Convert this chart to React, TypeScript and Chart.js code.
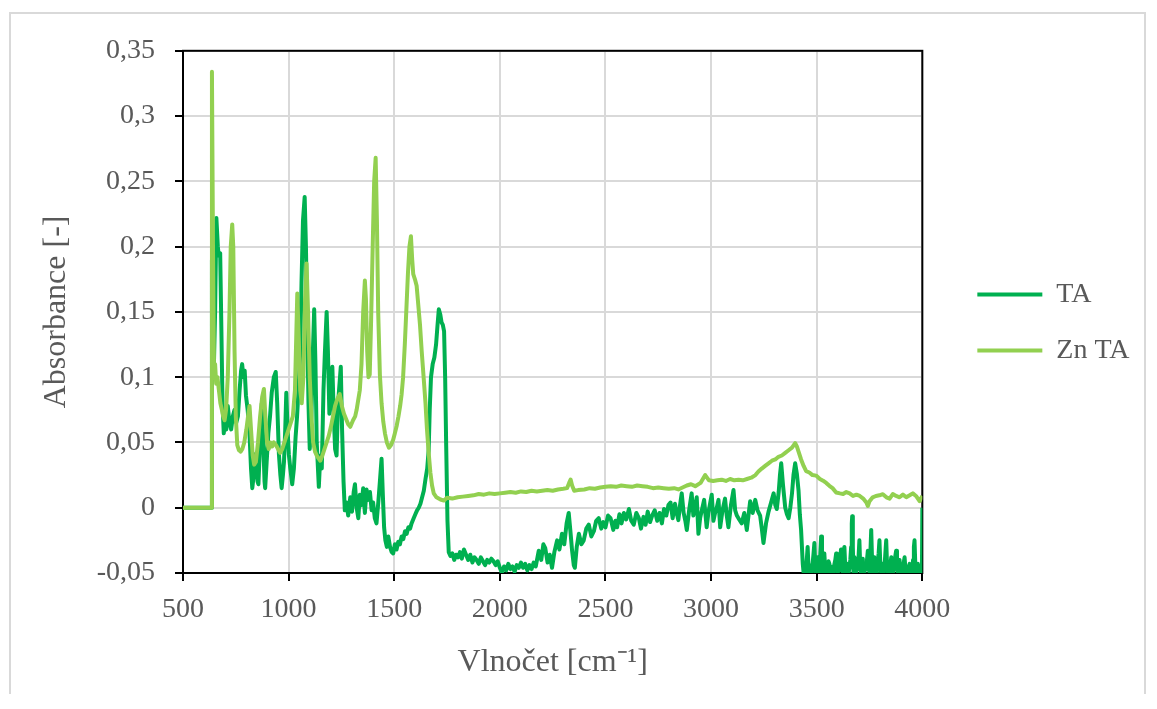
import { useEffect, useRef } from 'react';
import { Chart, registerables } from 'chart.js';

Chart.register(...registerables);

// FTIR absorbance spectra: [wavenumber (cm-1), absorbance (-)]
const taSpectrum: [number, number][] = [
  [500, 0], [634, 0], [637, 0.19], [645, 0.1], [652, 0.15], [658, 0.222], [665, 0.2], [669, 0.193],
  [676, 0.195], [682, 0.133], [687, 0.08], [693, 0.057], [699, 0.067], [705, 0.06], [712, 0.078],
  [720, 0.065], [728, 0.06], [736, 0.07], [744, 0.075], [752, 0.065], [760, 0.07], [768, 0.09],
  [775, 0.105], [780, 0.11], [786, 0.1], [792, 0.105], [798, 0.086], [806, 0.075], [814, 0.06],
  [822, 0.03], [828, 0.015], [835, 0.025], [841, 0.041], [848, 0.035], [853, 0.02], [857, 0.018],
  [865, 0.05], [873, 0.08], [880, 0.05], [886, 0.02], [889, 0.015], [896, 0.035], [904, 0.057],
  [912, 0.07], [920, 0.088], [930, 0.1], [939, 0.104], [946, 0.08], [954, 0.041], [961, 0.025],
  [967, 0.015], [973, 0.025], [978, 0.035], [984, 0.06], [989, 0.088], [995, 0.06], [1001, 0.041],
  [1008, 0.03], [1017, 0.018], [1025, 0.03], [1033, 0.054], [1040, 0.07], [1048, 0.094],
  [1055, 0.12], [1061, 0.172], [1068, 0.22], [1076, 0.238], [1082, 0.2], [1088, 0.14], [1094, 0.08],
  [1100, 0.045], [1108, 0.07], [1115, 0.12], [1121, 0.152], [1127, 0.11], [1133, 0.05], [1143, 0.016],
  [1150, 0.04], [1157, 0.03], [1165, 0.09], [1172, 0.12], [1180, 0.15], [1186, 0.12], [1193, 0.072],
  [1200, 0.09], [1207, 0.108], [1214, 0.07], [1220, 0.045], [1227, 0.04], [1234, 0.08], [1241, 0.095],
  [1247, 0.108], [1253, 0.06], [1260, 0.02], [1266, -0.002], [1274, 0.004], [1282, -0.006],
  [1292, 0.008], [1300, -0.003], [1308, 0.012], [1314, 0.018], [1322, 0.0], [1330, -0.008],
  [1337, 0.01], [1345, 0.002], [1353, 0.015], [1361, -0.004], [1369, 0.014], [1377, 0.006],
  [1385, 0.012], [1393, -0.002], [1400, 0.004], [1408, -0.008], [1416, -0.012], [1425, 0.005],
  [1432, 0.02], [1440, 0.0375], [1446, 0.01], [1452, -0.015], [1458, -0.025], [1465, -0.03],
  [1472, -0.022], [1480, -0.03], [1488, -0.034], [1495, -0.035], [1503, -0.028], [1511, -0.032],
  [1519, -0.026], [1527, -0.028], [1535, -0.022], [1543, -0.024], [1551, -0.018], [1559, -0.02],
  [1567, -0.015], [1575, -0.016], [1582, -0.012], [1592, -0.008], [1600, -0.005], [1608, -0.002],
  [1616, 0.0], [1624, 0.003], [1632, 0.008], [1640, 0.013], [1648, 0.022], [1656, 0.03],
  [1663, 0.044], [1668, 0.075], [1674, 0.1], [1682, 0.11], [1690, 0.115], [1698, 0.125],
  [1705, 0.14], [1711, 0.152], [1718, 0.148], [1724, 0.142], [1730, 0.14], [1736, 0.135],
  [1741, 0.1], [1746, 0.047], [1752, -0.01], [1758, -0.034], [1766, -0.037], [1775, -0.035],
  [1784, -0.04], [1793, -0.036], [1802, -0.038], [1811, -0.034], [1820, -0.039], [1830, -0.032],
  [1840, -0.036], [1850, -0.04], [1860, -0.036], [1870, -0.042], [1880, -0.038], [1890, -0.04],
  [1900, -0.043], [1910, -0.038], [1920, -0.041], [1930, -0.044], [1940, -0.04], [1950, -0.042],
  [1960, -0.039], [1970, -0.041], [1980, -0.044], [1990, -0.041], [2000, -0.046], [2010, -0.05],
  [2020, -0.045], [2030, -0.048], [2040, -0.043], [2050, -0.047], [2060, -0.045], [2070, -0.049],
  [2080, -0.044], [2090, -0.046], [2100, -0.042], [2110, -0.046], [2120, -0.043], [2130, -0.048],
  [2140, -0.044], [2150, -0.047], [2160, -0.042], [2170, -0.045], [2184, -0.033], [2196, -0.04],
  [2206, -0.028], [2215, -0.031], [2226, -0.042], [2236, -0.036], [2247, -0.046], [2258, -0.034],
  [2271, -0.025], [2282, -0.032], [2294, -0.02], [2305, -0.028], [2316, -0.012], [2326, -0.004],
  [2334, -0.018], [2342, -0.033], [2350, -0.044], [2355, -0.046], [2364, -0.03], [2374, -0.02],
  [2386, -0.028], [2397, -0.025], [2409, -0.016], [2421, -0.013], [2433, -0.022], [2445, -0.018],
  [2456, -0.01], [2468, -0.008], [2480, -0.016], [2490, -0.011], [2500, -0.015], [2512, -0.006],
  [2524, -0.008], [2537, -0.017], [2547, -0.01], [2555, -0.015], [2566, -0.005], [2576, -0.012],
  [2587, -0.004], [2598, -0.009], [2611, -0.001], [2622, -0.01], [2634, -0.013], [2646, -0.004],
  [2658, -0.008], [2668, -0.016], [2680, -0.007], [2690, -0.013], [2700, -0.003], [2711, -0.011],
  [2721, -0.006], [2733, -0.002], [2745, -0.01], [2756, -0.004], [2767, -0.012], [2777, -0.001],
  [2788, -0.006], [2798, 0.002], [2808, 0.004], [2818, -0.008], [2829, 0.003], [2837, -0.004],
  [2845, -0.0095], [2853, 0.002], [2861, 0.011], [2870, -0.004], [2878, -0.01], [2885, -0.017],
  [2896, -0.002], [2908, 0.011], [2916, -0.006], [2924, 0.0], [2932, 0.008], [2940, -0.02],
  [2948, -0.008], [2956, -0.002], [2967, 0.006], [2979, -0.015], [2987, -0.004], [2995, 0.003],
  [3003, 0.01], [3011, -0.01], [3019, -0.004], [3027, 0.0], [3035, 0.006], [3043, -0.015],
  [3054, -0.002], [3066, 0.007], [3074, -0.006], [3082, -0.015], [3094, 0.002], [3106, 0.0136],
  [3114, -0.002], [3122, -0.006], [3133, -0.009], [3145, -0.012], [3157, -0.004], [3169, -0.017],
  [3177, -0.006], [3185, 0.005], [3197, -0.004], [3209, 0.006], [3220, -0.002], [3232, -0.006],
  [3240, -0.016], [3248, -0.027], [3260, -0.012], [3272, -0.003], [3284, 0.004], [3296, 0.011],
  [3304, 0.002], [3311, -0.001], [3320, 0.012], [3326, 0.025], [3332, 0.034], [3340, 0.018],
  [3351, 0.0], [3359, -0.005], [3367, -0.008], [3375, 0.0], [3383, 0.011], [3390, 0.025],
  [3398, 0.034], [3406, 0.026], [3414, 0.013], [3420, -0.005], [3426, -0.017], [3434, -0.043],
  [3438, -0.05], [3441, -0.055], [3445, -0.047], [3449, -0.05], [3453, -0.04], [3457, -0.03],
  [3461, -0.045], [3465, -0.052], [3469, -0.044], [3473, -0.046], [3477, -0.05], [3481, -0.042],
  [3485, -0.035], [3489, -0.027], [3493, -0.045], [3497, -0.05], [3501, -0.042], [3505, -0.038],
  [3509, -0.047], [3513, -0.05], [3517, -0.035], [3521, -0.022], [3525, -0.045], [3528, -0.05],
  [3532, -0.04], [3536, -0.035], [3540, -0.046], [3544, -0.05], [3548, -0.044], [3552, -0.048],
  [3556, -0.041], [3560, -0.043], [3564, -0.05], [3568, -0.046], [3572, -0.05], [3576, -0.045],
  [3580, -0.05], [3584, -0.043], [3588, -0.04], [3592, -0.035], [3596, -0.046], [3600, -0.05],
  [3604, -0.044], [3608, -0.048], [3612, -0.038], [3615, -0.032], [3619, -0.045], [3623, -0.05],
  [3627, -0.04], [3631, -0.03], [3635, -0.045], [3639, -0.05], [3643, -0.046], [3647, -0.043],
  [3651, -0.05], [3655, -0.046], [3659, -0.04], [3663, -0.03], [3666, -0.012], [3668, -0.0065],
  [3671, -0.03], [3674, -0.05], [3679, -0.038], [3683, -0.047], [3687, -0.05], [3691, -0.042],
  [3695, -0.047], [3699, -0.035], [3702, -0.025], [3706, -0.045], [3710, -0.05], [3714, -0.044],
  [3718, -0.039], [3722, -0.048], [3726, -0.05], [3730, -0.043], [3734, -0.047], [3738, -0.04],
  [3742, -0.033], [3746, -0.046], [3750, -0.05], [3754, -0.035], [3758, -0.017], [3762, -0.04],
  [3766, -0.05], [3770, -0.043], [3773, -0.038], [3777, -0.048], [3781, -0.05], [3785, -0.045],
  [3789, -0.041], [3793, -0.035], [3797, -0.025], [3801, -0.043], [3805, -0.05], [3809, -0.046],
  [3813, -0.043], [3817, -0.05], [3821, -0.045], [3825, -0.035], [3829, -0.025], [3833, -0.044],
  [3837, -0.05], [3841, -0.046], [3845, -0.049], [3849, -0.043], [3853, -0.038], [3857, -0.047],
  [3861, -0.05], [3865, -0.045], [3869, -0.04], [3873, -0.036], [3876, -0.033], [3880, -0.047],
  [3884, -0.05], [3888, -0.044], [3892, -0.04], [3896, -0.048], [3900, -0.05], [3904, -0.045],
  [3908, -0.049], [3912, -0.042], [3916, -0.038], [3920, -0.047], [3924, -0.05], [3928, -0.046],
  [3932, -0.05], [3936, -0.045], [3940, -0.043], [3944, -0.05], [3948, -0.047], [3952, -0.05],
  [3956, -0.04], [3960, -0.03], [3963, -0.025], [3967, -0.045], [3971, -0.05], [3975, -0.046],
  [3979, -0.043], [3983, -0.05], [3987, -0.047], [3991, -0.05], [3995, -0.048], [3998, -0.05],
  [4000, 0.0],
];

const znTaSpectrum: [number, number][] = [
  [500, 0], [634, 0], [637, 0.334], [642, 0.2], [647, 0.1], [652, 0.11], [657, 0.095], [663, 0.1],
  [670, 0.09], [677, 0.08], [684, 0.075], [690, 0.07], [697, 0.067], [704, 0.075], [712, 0.1],
  [720, 0.15], [726, 0.2], [733, 0.217], [738, 0.2], [744, 0.12], [750, 0.07], [757, 0.048],
  [765, 0.044], [773, 0.043], [781, 0.045], [790, 0.05], [800, 0.06], [808, 0.07], [815, 0.078],
  [822, 0.06], [830, 0.04], [837, 0.033], [845, 0.035], [855, 0.05], [865, 0.07], [875, 0.085],
  [883, 0.091], [890, 0.07], [898, 0.05], [906, 0.045], [914, 0.05], [922, 0.047], [930, 0.05],
  [940, 0.048], [950, 0.045], [960, 0.042], [970, 0.045], [980, 0.05], [990, 0.055], [1000, 0.06],
  [1010, 0.065], [1020, 0.07], [1030, 0.09], [1036, 0.13], [1041, 0.164], [1048, 0.13],
  [1055, 0.09], [1062, 0.08], [1070, 0.1], [1078, 0.16], [1085, 0.187], [1092, 0.15], [1100, 0.1],
  [1108, 0.07], [1116, 0.05], [1125, 0.043], [1133, 0.04], [1141, 0.038], [1150, 0.036],
  [1160, 0.04], [1170, 0.045], [1180, 0.05], [1190, 0.055], [1200, 0.062], [1210, 0.07],
  [1220, 0.078], [1230, 0.083], [1242, 0.087], [1252, 0.078], [1262, 0.072], [1272, 0.068],
  [1282, 0.064], [1292, 0.062], [1305, 0.067], [1315, 0.07], [1322, 0.075], [1329, 0.082],
  [1337, 0.09], [1345, 0.11], [1353, 0.15], [1361, 0.174], [1366, 0.16], [1372, 0.12], [1378, 0.1],
  [1384, 0.102], [1390, 0.14], [1398, 0.2], [1405, 0.25], [1412, 0.268], [1418, 0.22], [1424, 0.15],
  [1432, 0.102], [1440, 0.08], [1448, 0.066], [1456, 0.057], [1465, 0.05], [1475, 0.046],
  [1485, 0.048], [1495, 0.052], [1503, 0.057], [1512, 0.063], [1520, 0.07], [1528, 0.078],
  [1535, 0.087], [1542, 0.1], [1550, 0.125], [1558, 0.154], [1565, 0.18], [1572, 0.2],
  [1579, 0.208], [1585, 0.19], [1590, 0.179], [1598, 0.175], [1606, 0.17], [1614, 0.155],
  [1622, 0.14], [1630, 0.12], [1640, 0.098], [1648, 0.08], [1655, 0.06], [1663, 0.042],
  [1671, 0.027], [1679, 0.017], [1687, 0.011], [1700, 0.008], [1719, 0.0063], [1735, 0.0055],
  [1750, 0.0076], [1775, 0.007], [1800, 0.008], [1825, 0.0085], [1850, 0.009], [1875, 0.0095],
  [1900, 0.0105], [1925, 0.01], [1950, 0.011], [1975, 0.0105], [2000, 0.011], [2025, 0.0115],
  [2050, 0.012], [2075, 0.0115], [2100, 0.0125], [2125, 0.012], [2150, 0.013], [2175, 0.0125],
  [2200, 0.013], [2225, 0.0135], [2250, 0.013], [2275, 0.014], [2300, 0.0145], [2318, 0.015],
  [2328, 0.019], [2335, 0.0216], [2342, 0.017], [2352, 0.013], [2370, 0.0135], [2400, 0.014],
  [2425, 0.015], [2450, 0.0145], [2475, 0.0155], [2500, 0.016], [2525, 0.0165], [2550, 0.016],
  [2575, 0.017], [2600, 0.0165], [2625, 0.016], [2650, 0.017], [2675, 0.0165], [2700, 0.016],
  [2725, 0.015], [2750, 0.0155], [2775, 0.015], [2800, 0.0145], [2825, 0.015], [2845, 0.014],
  [2865, 0.0155], [2885, 0.017], [2905, 0.018], [2925, 0.0165], [2950, 0.019], [2972, 0.025],
  [2990, 0.021], [3010, 0.0205], [3030, 0.021], [3050, 0.0215], [3070, 0.0205], [3090, 0.022],
  [3110, 0.021], [3130, 0.0215], [3150, 0.021], [3170, 0.022], [3190, 0.023], [3210, 0.025],
  [3224, 0.0277], [3240, 0.03], [3256, 0.032], [3272, 0.034], [3288, 0.036], [3304, 0.037],
  [3319, 0.039], [3335, 0.04], [3351, 0.042], [3367, 0.044], [3383, 0.046], [3398, 0.0495],
  [3406, 0.047], [3414, 0.043], [3426, 0.037], [3438, 0.032], [3450, 0.028], [3465, 0.027],
  [3480, 0.025], [3497, 0.0246], [3515, 0.022], [3530, 0.0207], [3545, 0.019], [3560, 0.0168],
  [3575, 0.015], [3592, 0.0117], [3610, 0.011], [3625, 0.0105], [3640, 0.012], [3656, 0.011],
  [3672, 0.009], [3688, 0.01], [3704, 0.009], [3720, 0.007], [3735, 0.004], [3742, 0.0013],
  [3750, 0.005], [3765, 0.008], [3780, 0.009], [3797, 0.0095], [3813, 0.0104], [3830, 0.008],
  [3845, 0.007], [3860, 0.0105], [3876, 0.009], [3892, 0.008], [3908, 0.01], [3924, 0.008],
  [3940, 0.0095], [3955, 0.011], [3970, 0.009], [3987, 0.005], [4000, 0.009],
];

const seriesLabels = ['TA', 'Zn TA'];
const seriesColors = ['#00B050', '#92D050'];
const xTickValues = [500, 1000, 1500, 2000, 2500, 3000, 3500, 4000];
const yTickValues = [-0.05, 0, 0.05, 0.1, 0.15, 0.2, 0.25, 0.3, 0.35];

const FONT = "'Liberation Serif', 'Times New Roman', serif";
const TEXT = '#595959';
const GRID = '#d9d9d9';

// Black frame around the plot area, drawn beneath the spectra
const plotFrame = {
  id: 'plotFrame',
  beforeDatasetsDraw(chart: any) {
    const { ctx, chartArea: a } = chart;
    ctx.save();
    ctx.strokeStyle = '#000';
    ctx.lineWidth = 2;
    ctx.strokeRect(a.left, a.top, a.right - a.left, a.bottom - a.top);
    ctx.restore();
  },
};

const formatDecimal = (v: number) => String(Math.round(v * 100) / 100).replace('.', ',');

export default function App() {
  const canvasRef = useRef<HTMLCanvasElement | null>(null);

  useEffect(() => {
    if (!canvasRef.current) return;
    const spectra = [taSpectrum, znTaSpectrum];
    const chart = new Chart(canvasRef.current, {
      type: 'line',
      data: {
        datasets: spectra.map((s, i) => ({
          label: seriesLabels[i],
          data: s.map(([x, y]) => ({ x, y })),
          borderColor: seriesColors[i],
          backgroundColor: seriesColors[i],
          borderWidth: 4,
          borderJoinStyle: 'round' as const,
          pointRadius: 0,
          tension: 0,
          clip: 0,
          // Zn TA is painted over TA
          order: i === 0 ? 1 : 0,
        })),
      },
      options: {
        responsive: false,
        animation: false,
        events: [],
        layout: { padding: { top: 34, left: 0, right: 7, bottom: 0 } },
        plugins: {
          tooltip: { enabled: false },
          legend: {
            position: 'right',
            fullSize: false,
            align: 'center',
            title: { display: true, text: '', padding: { top: 20, bottom: 0 }, font: { size: 1 } },
            labels: {
              usePointStyle: true,
              pointStyle: 'line',
              pointStyleWidth: 65,
              padding: 28,
              color: TEXT,
              font: { size: 28, family: FONT },
              sort: (a: any, b: any) => a.datasetIndex - b.datasetIndex,
            },
          },
        },
        scales: {
          x: {
            type: 'linear',
            position: 'bottom',
            min: 500,
            max: 4000,
            afterBuildTicks: (scale: any) => {
              scale.ticks = xTickValues.map((value) => ({ value }));
            },
            afterFit: (scale: any) => {
              scale.height = 123;
            },
            ticks: {
              color: TEXT,
              font: { size: 28, family: FONT },
              padding: 12,
              maxRotation: 0,
              callback: (v: any) => String(v),
            },
            grid: { color: GRID, lineWidth: 2, tickColor: '#000', tickWidth: 2, tickLength: 8 },
            border: { display: false },
            title: {
              display: true,
              text: 'Vlnočet [cm⁻¹]',
              color: TEXT,
              font: { size: 32, family: FONT },
              padding: { top: 0, bottom: 14 },
            },
          },
          y: {
            type: 'linear',
            position: 'left',
            min: -0.05,
            max: 0.35,
            afterBuildTicks: (scale: any) => {
              scale.ticks = yTickValues.map((value) => ({ value }));
            },
            afterFit: (scale: any) => {
              scale.width = 172;
            },
            ticks: {
              color: TEXT,
              font: { size: 28, family: FONT },
              padding: 20,
              callback: (v: any) => formatDecimal(Number(v)),
            },
            grid: { color: GRID, lineWidth: 2, tickColor: '#000', tickWidth: 2, tickLength: 8 },
            border: { display: false },
            title: {
              display: true,
              text: 'Absorbance [-]',
              color: TEXT,
              font: { size: 32, family: FONT },
              padding: { top: 26, bottom: 0 },
            },
          },
          gap: {
            type: 'linear',
            position: 'right',
            min: 0,
            max: 1,
            ticks: { display: false },
            grid: { display: false, drawTicks: false },
            border: { display: false },
            afterFit: (scale: any) => {
              scale.width = 27;
            },
          },
        },
      },
      plugins: [plotFrame],
    } as any);
    return () => chart.destroy();
  }, []);

  return (
    <div
      style={{
        position: 'relative',
        left: 1,
        top: 4,
        width: 1133,
        height: 682,
        border: `2px solid ${GRID}`,
      }}
    >
      <canvas ref={canvasRef} width={1133} height={682} style={{ display: 'block' }} />
    </div>
  );
}
